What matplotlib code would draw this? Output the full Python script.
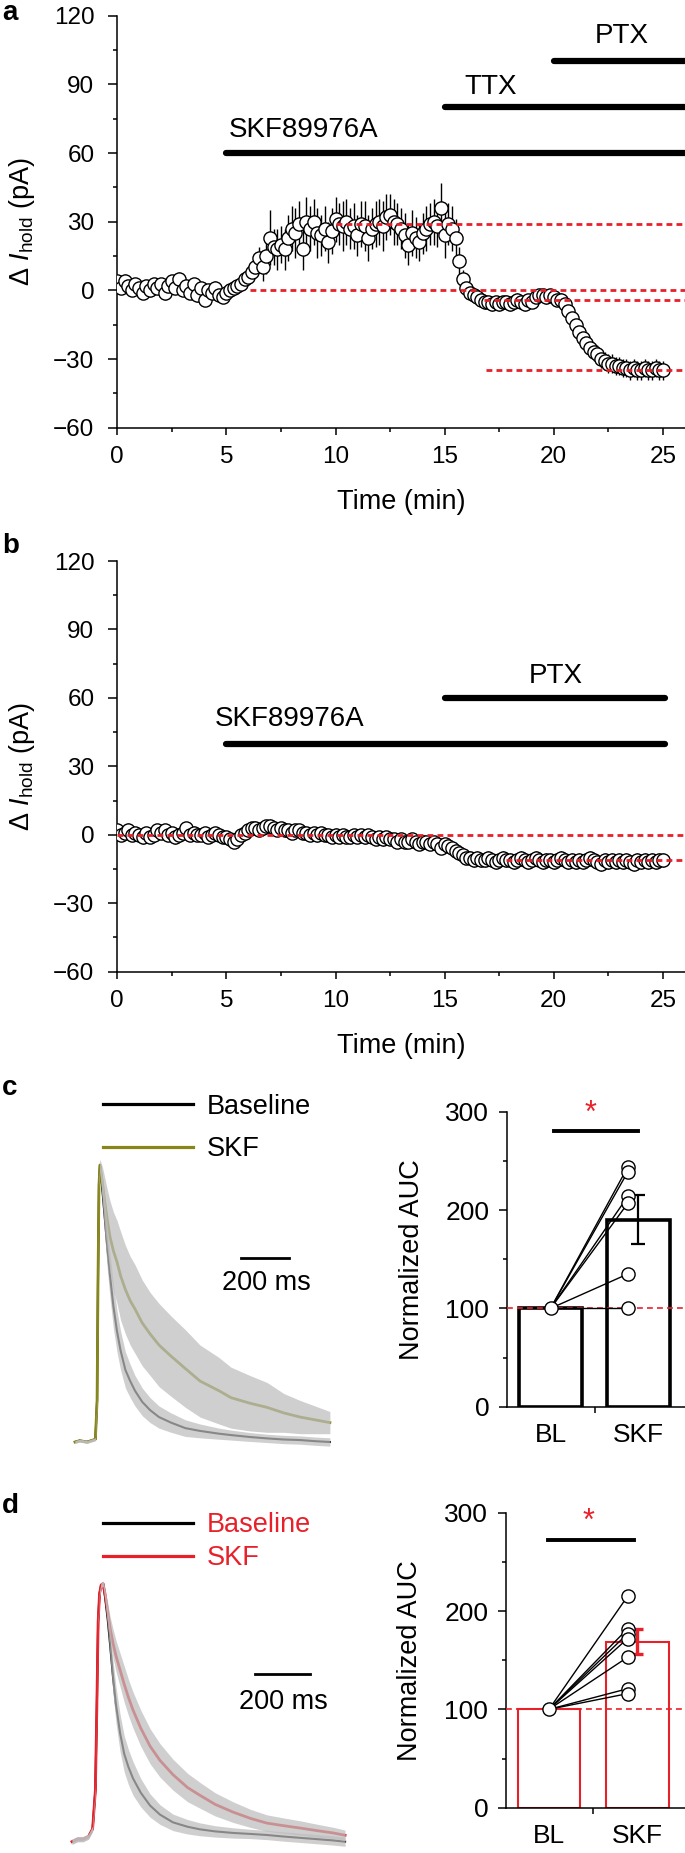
import numpy as np
import matplotlib
matplotlib.use("Agg")
import matplotlib.pyplot as plt
from matplotlib.lines import Line2D
from matplotlib.ticker import MultipleLocator

plt.rcParams['font.family'] = ['Liberation Sans', 'DejaVu Sans']
plt.rcParams['mathtext.fontset'] = 'custom'
plt.rcParams['mathtext.rm'] = 'Liberation Sans'
plt.rcParams['mathtext.it'] = 'Liberation Sans:italic'

# ---------------- data ----------------
sample_min = 10.0 / 60.0   # one point every 10 s

# panel a: delta I_hold (pA), SKF89976A -> TTX -> PTX
a_vals = [
    4, 1, 4, 2, 0, 3,
    1, -1, 2, 0, 3, 1,
    3, -1, 2, 4, 1, 5,
    0, 2, -1, 3, -2, 1,
    -4, 0, -1, 1, -2, -3,
    -1, 0, 1, 2, 3, 5,
    6, 8, 10, 14, 10, 15,
    23, 19, 18, 20, 18, 23,
    27, 25, 29, 18, 30, 27,
    30, 25, 24, 27, 21, 26,
    31, 29, 28, 30, 27, 28,
    24, 29, 28, 23, 27, 29,
    30, 28, 32, 33, 30, 29,
    27, 24, 20, 25, 23, 21,
    25, 27, 29, 30, 28, 36,
    24, 29, 27, 23, 13, 5,
    1, -1, -2, -3, -4, -5,
    -5, -6, -5, -6, -5, -5,
    -6, -5, -4, -5, -6, -4,
    -5, -3, -2, -2, -3, -2,
    -3, -4, -4, -6, -9, -12,
    -15, -18, -21, -23, -25, -27,
    -28, -30, -31, -32, -32, -33,
    -33, -34, -34, -35, -34, -35,
    -35, -34, -35, -35, -34, -35,
    -35]
a_err = [
    2, 2, 3, 2, 2, 2,
    2, 2, 2, 3, 2, 2,
    2, 3, 2, 2, 2, 3,
    2, 2, 2, 2, 3, 2,
    2, 2, 2, 3, 2, 2,
    2, 2, 2, 3, 3, 3,
    3, 3, 4, 5, 6, 8,
    12, 8, 9, 8, 9, 10,
    10, 11, 10, 9, 11, 10,
    10, 11, 9, 10, 9, 10,
    10, 9, 11, 10, 9, 10,
    9, 10, 11, 10, 9, 10,
    10, 11, 10, 9, 10, 9,
    9, 10, 9, 10, 9, 8,
    9, 10, 9, 10, 9, 11,
    10, 9, 10, 8, 6, 4,
    3, 3, 3, 3, 3, 3,
    2, 3, 2, 3, 2, 3,
    3, 2, 3, 2, 3, 2,
    2, 3, 2, 2, 3, 2,
    3, 3, 3, 3, 3, 3,
    3, 3, 4, 4, 4, 4,
    4, 4, 4, 4, 4, 4,
    4, 4, 4, 4, 4, 4,
    4, 4, 4, 4, 4, 4,
    4]

# panel b: SKF89976A -> PTX
b_vals = [
    2, 0, 1, 2, 0, 1,
    0, -1, 1, -1, 0, 2,
    1, 2, 0, 1, -1, 0,
    1, 3, 0, 1, 0, 0,
    1, -1, 0, 1, 0, -1,
    -1, -2, -3, -2, 0, 1,
    2, 3, 3, 2, 3, 4,
    4, 3, 2, 3, 2, 2,
    1, 2, 2, 1, 1, 0,
    1, 0, 1, 0, 0, -1,
    0, -1, 0, -1, -1, 0,
    -1, 0, -1, 0, -1, -2,
    -1, -2, -1, -2, -2, -3,
    -2, -3, -3, -2, -3, -4,
    -3, -3, -4, -3, -4, -6,
    -4, -5, -6, -7, -8, -9,
    -10, -10, -11, -10, -11, -11,
    -10, -11, -12, -11, -10, -11,
    -11, -12, -11, -10, -11, -12,
    -11, -10, -11, -12, -11, -11,
    -12, -11, -10, -11, -12, -11,
    -12, -11, -12, -11, -10, -11,
    -12, -13, -11, -12, -11, -12,
    -11, -12, -11, -12, -13, -11,
    -12, -11, -12, -11, -12, -11,
    -11]
b_err = [
    2, 2, 2, 3, 2, 2,
    2, 3, 2, 2, 2, 2,
    3, 2, 2, 2, 3, 2,
    2, 2, 2, 3, 2, 2,
    2, 2, 3, 2, 2, 2,
    2, 3, 2, 2, 2, 3,
    2, 2, 3, 2, 2, 2,
    3, 2, 2, 2, 3, 2,
    2, 2, 2, 3, 2, 2,
    2, 3, 2, 2, 2, 2,
    3, 2, 2, 2, 3, 2,
    2, 2, 3, 2, 2, 2,
    2, 3, 2, 2, 2, 3,
    2, 2, 2, 3, 2, 2,
    3, 2, 2, 2, 3, 2,
    2, 3, 2, 3, 3, 3,
    3, 3, 3, 3, 3, 3,
    3, 3, 3, 3, 3, 3,
    3, 3, 3, 3, 3, 3,
    3, 3, 3, 3, 3, 3,
    3, 3, 3, 3, 3, 3,
    3, 3, 3, 3, 3, 3,
    3, 3, 3, 3, 3, 3,
    3, 3, 3, 3, 3, 3,
    3, 3, 3, 3, 3, 3,
    3]

# dashed reference levels (level, start time)
a_ref_levels = [29, 0, -4, -35]
a_ref_starts = [10.0, 6.1, 16.8, 16.9]
b_ref_levels = [0, -11]
b_ref_starts = [0.0, 17.8]

# drug applications
a_drugs = ["SKF89976A", "TTX", "PTX"]
a_drug_start = [5, 15, 20]
a_drug_y = [60, 80, 100]
b_drugs = ["SKF89976A", "PTX"]
b_drug_start = [5, 15]
b_drug_y = [40, 60]
b_drug_end = 25.1

# panel c traces: normalized current vs time (ms)
c_t = [0, 20, 50, 85, 92, 96, 100, 104, 115, 125, 135, 146, 160, 175, 190,
       210, 230, 250, 280, 313, 350, 400, 460, 521, 600, 650, 729, 800, 870,
       938, 1000, 1062]
c_bl = [0.0, 0.005, 0.0, 0.01, 0.15, 0.6, 0.93, 1.0, 0.9, 0.8, 0.7, 0.6, 0.49,
        0.4, 0.33, 0.26, 0.22, 0.185, 0.145, 0.115, 0.09, 0.07, 0.05, 0.04,
        0.03, 0.025, 0.018, 0.013, 0.009, 0.007, 0.003, 0.0]
c_bl_sem = [0.005, 0.005, 0.005, 0.005, 0.01, 0.01, 0.01, 0.02, 0.05, 0.07, 0.08,
            0.08, 0.08, 0.075, 0.07, 0.065, 0.06, 0.055, 0.05, 0.045, 0.04,
            0.035, 0.03, 0.025, 0.02, 0.018, 0.016, 0.015, 0.015, 0.015,
            0.015, 0.015]
c_skf = [0.0, 0.005, 0.0, 0.01, 0.15, 0.6, 0.93, 1.0, 0.93, 0.86, 0.8, 0.74,
         0.69, 0.65, 0.6, 0.55, 0.51, 0.48, 0.43, 0.39, 0.35, 0.31, 0.265,
         0.22, 0.185, 0.16, 0.14, 0.125, 0.105, 0.09, 0.08, 0.07]
c_skf_sem = [0.005, 0.005, 0.005, 0.005, 0.01, 0.01, 0.01, 0.02, 0.06, 0.09, 0.11,
             0.13, 0.14, 0.15, 0.16, 0.16, 0.16, 0.16, 0.155, 0.15, 0.15,
             0.145, 0.14, 0.13, 0.12, 0.11, 0.1, 0.09, 0.07, 0.06, 0.05, 0.04]

# panel d traces
d_t = [0, 20, 40, 60, 75, 85, 90, 95, 100, 106, 113, 120, 130, 138, 149, 160,
       175, 190, 205, 222, 250, 284, 320, 367, 420, 465, 520, 585, 650, 709,
       770, 829, 890, 949, 993]
d_bl = [0.0, 0.01, 0.01, 0.02, 0.05, 0.2, 0.5, 0.85, 0.96, 0.995, 1.0, 0.95,
        0.86, 0.77, 0.64, 0.53, 0.42, 0.34, 0.29, 0.245, 0.19, 0.14, 0.105,
        0.075, 0.058, 0.048, 0.04, 0.034, 0.03, 0.026, 0.02, 0.015, 0.01,
        0.005, 0.0]
d_bl_sem = [0.01, 0.01, 0.01, 0.01, 0.01, 0.01, 0.01, 0.01, 0.01, 0.01, 0.01,
            0.02, 0.04, 0.055, 0.065, 0.07, 0.072, 0.07, 0.068, 0.065, 0.055,
            0.045, 0.038, 0.032, 0.028, 0.025, 0.022, 0.02, 0.018, 0.018,
            0.018, 0.018, 0.018, 0.018, 0.018]
d_skf = [0.0, 0.01, 0.01, 0.02, 0.05, 0.2, 0.5, 0.85, 0.96, 0.995, 1.0, 0.96,
         0.89, 0.83, 0.77, 0.72, 0.665, 0.61, 0.56, 0.51, 0.44, 0.37, 0.315,
         0.26, 0.21, 0.18, 0.145, 0.115, 0.09, 0.072, 0.062, 0.053, 0.043,
         0.034, 0.025]
d_skf_sem = [0.01, 0.01, 0.01, 0.01, 0.01, 0.01, 0.01, 0.01, 0.01, 0.01, 0.01,
             0.02, 0.035, 0.045, 0.055, 0.06, 0.065, 0.07, 0.07, 0.07, 0.07,
             0.068, 0.065, 0.06, 0.055, 0.05, 0.045, 0.04, 0.035, 0.032, 0.03,
             0.028, 0.025, 0.022, 0.02]
scalebar_ms = 200

# AUC bars
groups = ["BL", "SKF"]
c_points_skf = [244, 239, 214, 207, 135, 100]
c_mean = [100, 190]
c_sem = [0, 25]
d_points_skf = [215, 182, 177, 172, 153, 121, 116]
d_mean = [100, 169]
d_sem = [0, 13]

# ---------------- figure ----------------
W, H = 685, 1853
fig = plt.figure(figsize=(W / 100, H / 100), dpi=100)
RED = '#e8202a'
OLIVE = '#86861a'
BAND = '#bdbdbd'


def px_axes(left, top, right, bottom):
    return fig.add_axes([left / W, 1 - bottom / H, (right - left) / W, (bottom - top) / H])


def time_panel(ax, vals, errs, levels, starts, drugs, dstart, dy, dend, xmax):
    t = np.arange(len(vals)) * sample_min
    ax.vlines(t, np.array(vals) - np.array(errs), np.array(vals) + np.array(errs),
              color='black', lw=1.0, zorder=2)
    ax.plot(t, vals, 'o', ms=9.5, mfc='white', mec='black', mew=1.0, zorder=3)
    for lev, st in zip(levels, starts):
        ax.plot([st, xmax], [lev, lev], color=RED, lw=2.0,
                linestyle=(0, (2.1, 1.5)), zorder=4, clip_on=False)
    for name, st, y in zip(drugs, dstart, dy):
        ax.plot([st, dend], [y, y], color='black', lw=4.5,
                solid_capstyle='round', zorder=3, clip_on=False)
    ax.set_xlim(0, xmax)
    ax.set_ylim(-60, 120)
    ax.xaxis.set_major_locator(MultipleLocator(5))
    ax.xaxis.set_minor_locator(MultipleLocator(2.5))
    ax.yaxis.set_major_locator(MultipleLocator(30))
    ax.yaxis.set_minor_locator(MultipleLocator(15))
    for s in ['top', 'right']:
        ax.spines[s].set_visible(False)
    for s in ['left', 'bottom']:
        ax.spines[s].set_linewidth(1.1)
    ax.tick_params(axis='y', which='major', length=6.5, width=1.1, labelsize=17.5, pad=10)
    ax.tick_params(axis='y', which='minor', length=3, width=1.1)
    ax.tick_params(axis='x', which='major', length=5, width=1.1, labelsize=17.5, pad=8)
    ax.tick_params(axis='x', which='minor', length=3, width=1.1)
    ax.set_yticks([-60, -30, 0, 30, 60, 90, 120])
    ax.set_yticklabels(['\u221260', '\u221230', '0', '30', '60', '90', '120'])
    ax.set_xlabel('Time (min)', fontsize=19.5)
    ax.xaxis.set_label_coords(0.5, -0.18)
    ax.xaxis.label.set_va('center')
    ax.set_ylabel('\u0394 $I_{\\rm hold}$ (pA)', fontsize=19.5, va='center')
    ax.yaxis.set_label_coords(-0.168, 0.5)


# panel a
xmax = (685 - 117.3) / 21.82
ax_a = px_axes(117.3, 15.7, 685, 427.7)
time_panel(ax_a, a_vals, a_err, a_ref_levels, a_ref_starts, a_drugs,
           a_drug_start, a_drug_y, xmax, xmax)
ax_a.text(5.1, 67, 'SKF89976A', fontsize=20, ha='left', va='baseline')
ax_a.text(17.1, 86, 'TTX', fontsize=20, ha='center', va='baseline')
ax_a.text(23.1, 108, 'PTX', fontsize=20, ha='center', va='baseline')

# panel b
ax_b = px_axes(117.3, 561, 685, 971.7)
time_panel(ax_b, b_vals, b_err, b_ref_levels, b_ref_starts, b_drugs,
           b_drug_start, b_drug_y, b_drug_end, xmax)
ax_b.text(4.45, 47.5, 'SKF89976A', fontsize=20, ha='left', va='baseline')
ax_b.text(20.1, 66.5, 'PTX', fontsize=20, ha='center', va='baseline')


def trace_panel(box, x0px, px_per_ms, base_px, amp_px, t, m1, s1, m2, s2,
                col2, leg_color, leg_xy, leg_spacing, sb_x0, sb_y, sb_text_y):
    left, top, right, bottom = box
    ax = px_axes(left, top, right, bottom)
    ax.set_xlim((left - x0px) / px_per_ms, (right - x0px) / px_per_ms)
    ax.set_ylim((base_px - bottom) / amp_px, (base_px - top) / amp_px)
    ax.axis('off')
    t = np.array(t)
    ax.plot(t, m1, color='black', lw=1.5, zorder=2)
    ax.plot(t, m2, color=col2, lw=2.0, zorder=2)
    ax.fill_between(t, np.array(m1) - s1, np.array(m1) + s1, color=BAND,
                    alpha=0.72, lw=0, zorder=3)
    ax.fill_between(t, np.array(m2) - s2, np.array(m2) + s2, color=BAND,
                    alpha=0.72, lw=0, zorder=3)
    handles = [Line2D([], [], color='black', lw=2.3), Line2D([], [], color=col2, lw=2.3)]
    ax.legend(handles, ['Baseline', 'SKF'], loc='upper left', bbox_to_anchor=leg_xy,
              frameon=False, fontsize=19.5, handlelength=3.33, handletextpad=0.5,
              labelspacing=leg_spacing, borderpad=0, borderaxespad=0,
              labelcolor=leg_color)
    ax.plot([sb_x0, sb_x0 + scalebar_ms], [sb_y, sb_y], color='black', lw=2.0)
    ax.text(sb_x0 + scalebar_ms / 2 + 5, sb_text_y, '%d ms' % scalebar_ms,
            fontsize=19.5, ha='center', va='center')
    return ax


trace_panel((60, 1090, 360, 1450), 75, 0.24, 1442, 277, c_t, c_bl, c_bl_sem,
            c_skf, c_skf_sem, OLIVE, 'black', (0.1433, 0.99), 0.62,
            692, 0.664, 0.574)
trace_panel((55, 1490, 360, 1850), 72, 0.275, 1841.7, 258, d_t, d_bl, d_bl_sem,
            d_skf, d_skf_sem, RED, RED, (0.157, 0.9375), 0.25,
            665, 0.65, 0.541)


def bar_panel(box, mean, sem, pts, edge, edge_lw, err_lw, capsize, sig_y, star_y,
              xlim, pts_x, sig_x):
    ax = px_axes(*box)
    x = np.arange(len(groups))
    ax.bar(x, mean, width=0.71, color='white', edgecolor=edge, lw=edge_lw, zorder=2)
    ax.errorbar([1], [mean[1]], yerr=[sem[1]], fmt='none', ecolor=edge,
                elinewidth=err_lw, capsize=capsize, capthick=err_lw, zorder=3)
    ax.plot(xlim, [100, 100], color=RED, lw=1.2, linestyle=(0, (3.5, 2.5)),
            zorder=3, clip_on=False)
    for p in pts:
        ax.plot([0, pts_x], [100, p], color='black', lw=1.0, zorder=4)
    ax.plot([0], [100], 'o', ms=9.5, mfc='white', mec='black', mew=1.0, zorder=5)
    ax.plot([pts_x] * len(pts), pts, 'o', ms=9.5, mfc='white', mec='black',
            mew=1.0, zorder=5, clip_on=False)
    ax.plot(sig_x, [sig_y, sig_y], color='black', lw=2.8, zorder=4)
    ax.text(0.45, star_y, '*', color=RED, fontsize=22, ha='center', va='center')
    ax.set_xlim(*xlim)
    ax.set_ylim(0, 300)
    ax.set_yticks([0, 100, 200, 300])
    ax.yaxis.set_minor_locator(MultipleLocator(50))
    ax.set_xticks(x)
    ax.set_xticklabels(groups)
    ax.set_xticks([0.5], minor=True)
    for s in ['top', 'right']:
        ax.spines[s].set_visible(False)
    for s in ['left', 'bottom']:
        ax.spines[s].set_linewidth(1.1)
    ax.tick_params(axis='y', which='major', length=5.5, width=1.1, labelsize=19, pad=7)
    ax.tick_params(axis='y', which='minor', length=3, width=1.1)
    ax.tick_params(axis='x', which='major', length=0, labelsize=19, pad=12)
    ax.tick_params(axis='x', which='minor', length=4, width=1.1)
    ax.set_ylabel('Normalized AUC', fontsize=19.5, va='center')
    ax.yaxis.set_label_coords(-0.533, 0.5)
    return ax


bar_panel((506.7, 1111.7, 685, 1406.7), c_mean, c_sem, c_points_skf, 'black', 2.6,
          1.6, 5, 280, 298, (-0.5, 1.53), 0.88, [0.04, 0.99])
bar_panel((505.7, 1512.7, 685, 1807.7), d_mean, d_sem, d_points_skf, RED, 1.5,
          2.4, 4, 272, 291, (-0.49, 1.54), 0.89, [-0.01, 0.96])

# panel letters
for lab, y in zip(['a', 'b', 'c', 'd'], [20, 553, 1095, 1513]):
    fig.text(2 / W, 1 - y / H, lab, fontsize=20, fontweight='bold', ha='left',
             va='baseline')

fig.savefig('out.png', dpi=100)
